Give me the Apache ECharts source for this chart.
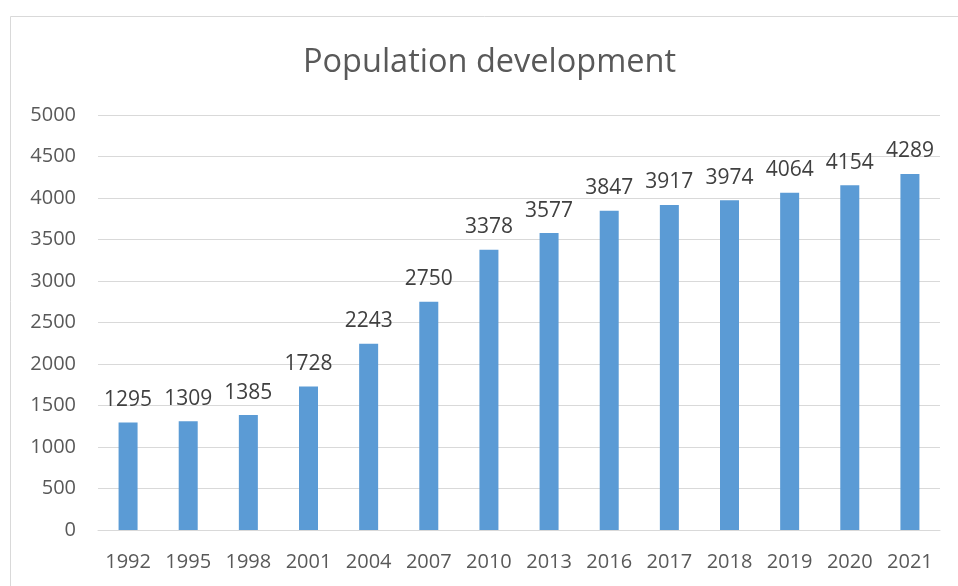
<!DOCTYPE html>
<html>
<head>
<meta charset="utf-8">
<script src="https://cdn.jsdelivr.net/npm/echarts@6/dist/echarts.min.js"></script>
<style>
  html, body { margin: 0; padding: 0; background: #fff; }
  #main { width: 958px; height: 586px; }
</style>
</head>
<body>
<div id="main"></div>
<script>
var years = ['1992', '1995', '1998', '2001', '2004', '2007', '2010', '2013', '2016', '2017', '2018', '2019', '2020', '2021'];
var population = [1295, 1309, 1385, 1728, 2243, 2750, 3378, 3577, 3847, 3917, 3974, 4064, 4154, 4289];

var myChart = echarts.init(document.getElementById('main'));

var option = {
    animation: false,
    textStyle: { fontFamily: 'Open Sans' },
    title: {
        text: 'Population development',
        left: 303,
        top: 46,
        padding: 0,
        textStyle: {
            fontSize: 32.5,
            fontWeight: 'normal',
            color: '#595959',
            fontFamily: 'Open Sans'
        }
    },
    graphic: [{
        type: 'rect',
        shape: { x: 10.5, y: 16.5, width: 1000, height: 700 },
        style: { fill: 'none', stroke: '#d9d9d9', lineWidth: 1 },
        silent: true
    }],
    grid: {
        left: 98,
        right: 18,
        top: 115,
        bottom: 56
    },
    xAxis: {
        type: 'category',
        data: years,
        axisLine: { lineStyle: { color: '#d9d9d9', width: 1 } },
        axisTick: { show: false },
        axisLabel: {
            color: '#595959',
            fontSize: 20,
            margin: 22
        }
    },
    yAxis: {
        type: 'value',
        min: 0,
        max: 5000,
        interval: 500,
        axisLine: { show: false },
        axisTick: { show: false },
        splitLine: { lineStyle: { color: '#d9d9d9', width: 1 } },
        axisLabel: {
            color: '#595959',
            fontSize: 20,
            margin: 22,
            formatter: function (v) { return String(v); }
        }
    },
    series: [{
        type: 'bar',
        data: population,
        barWidth: 19,
        itemStyle: { color: '#5b9bd5' },
        label: {
            show: true,
            position: 'top',
            distance: 12,
            color: '#404040',
            fontSize: 21
        }
    }]
};

myChart.setOption(option);
</script>
</body>
</html>
